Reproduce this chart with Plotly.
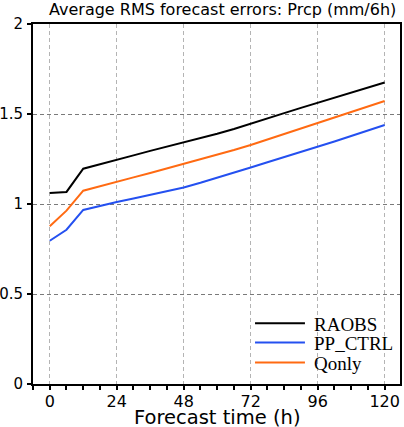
import plotly.graph_objects as go

# forecast lead times (h) and average RMS errors of 6h precipitation
hours = [0, 6, 12, 18, 24, 30, 36, 42, 48, 54, 60, 66, 72, 78, 84, 90, 96, 102, 108, 114, 120]
raobs = [1.061, 1.067, 1.196, 1.222, 1.245, 1.270, 1.295, 1.318, 1.340, 1.365, 1.390, 1.417, 1.445,
         1.475, 1.505, 1.534, 1.563, 1.592, 1.620, 1.648, 1.675]
pp_ctrl = [0.796, 0.857, 0.967, 0.990, 1.011, 1.030, 1.050, 1.071, 1.092, 1.118, 1.145, 1.173, 1.203,
           1.232, 1.260, 1.288, 1.316, 1.347, 1.378, 1.409, 1.439]
qonly = [0.876, 0.963, 1.074, 1.100, 1.125, 1.148, 1.172, 1.197, 1.222, 1.247, 1.273, 1.300, 1.328,
         1.359, 1.390, 1.421, 1.452, 1.482, 1.512, 1.542, 1.572]

names = ["RAOBS", "PP_CTRL", "Qonly"]
colors = ["#000000", "#2450f0", "#ff6a12"]
series = [raobs, pp_ctrl, qonly]

x_ticks = [0, 24, 48, 72, 96, 120]
y_ticks = [0, 0.5, 1, 1.5, 2]
y_labels = ["0", "0.5", "1", "1.5", "2"]

sans = "DejaVu Sans"
serif = "Liberation Serif, Times New Roman, serif"

fig = go.Figure()
for name, vals, col in zip(names, series, colors):
    fig.add_trace(go.Scatter(x=hours, y=vals, mode="lines", name=name,
                             line=dict(color=col, width=2), showlegend=False))

# hand-made legend in the lower right corner
legend_y = [0.169, 0.115, 0.060]
for name, col, yy in zip(names, colors, legend_y):
    fig.add_shape(type="line", xref="paper", yref="paper", x0=0.605, x1=0.741, y0=yy, y1=yy,
                  line=dict(color=col, width=2))
    fig.add_annotation(xref="paper", yref="paper", x=0.760, y=yy - 0.003, text=name, showarrow=False,
                       xanchor="left", yanchor="middle", font=dict(family=serif, size=19, color="black"))

fig.add_annotation(xref="paper", yref="paper", x=0.515, y=1.039,
                   text="Average RMS forecast errors: Prcp (mm/6h)", showarrow=False,
                   xanchor="center", yanchor="middle", font=dict(family=sans, size=16, color="black"))
fig.add_annotation(xref="paper", yref="paper", x=0.502, y=-0.093, text="Forecast time (h)",
                   showarrow=False, xanchor="center", yanchor="middle",
                   font=dict(family=sans, size=19.5, color="black"))

fig.update_xaxes(range=[-6, 125.5], tickvals=x_ticks, ticks="outside", ticklen=4, tickwidth=1.5,
                 tickcolor="black", showline=True, linecolor="black", linewidth=2, mirror=True,
                 showgrid=True, gridcolor="#b4b4b4", griddash="4px,3px", gridwidth=1, zeroline=False,
                 minor=dict(dtick=6, tick0=0, ticks="outside", ticklen=4, tickwidth=1.5, tickcolor="black",
                            showgrid=False),
                 automargin=False, ticklabelstandoff=-2,
                 tickfont=dict(family=sans, size=16, color="black"))
fig.update_yaxes(range=[0, 2], tickvals=y_ticks, ticktext=y_labels, ticks="outside", ticklen=4,
                 tickwidth=1.5, tickcolor="black", showline=True, linecolor="black", linewidth=2,
                 mirror=True, showgrid=True, gridcolor="#7a7a7a", griddash="4px,3px", gridwidth=1,
                 zeroline=False, automargin=False, ticklabelstandoff=1,
                 tickfont=dict(family=sans, size=15, color="black"))

fig.update_layout(width=404, height=427, margin=dict(l=33, r=4, t=24, b=43),
                  paper_bgcolor="white", plot_bgcolor="white")

# drop the default page margin so the 404x427 figure fills the window exactly
fig.write_html("out.html", config={"displayModeBar": False},
               post_script="document.body.style.margin='0';document.body.style.overflow='hidden';")
